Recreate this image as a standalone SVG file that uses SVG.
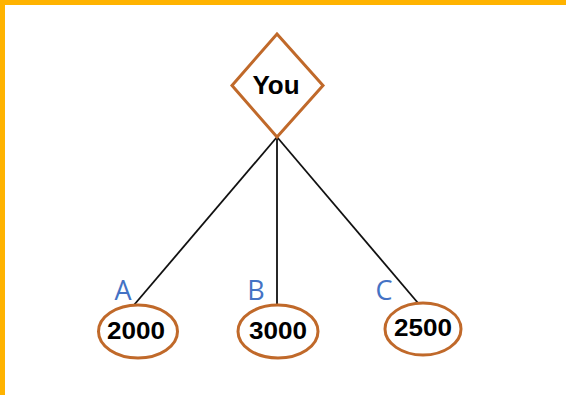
<svg xmlns="http://www.w3.org/2000/svg" width="566" height="395" viewBox="0 0 566 395">
<style>
.shape{fill:#fff;stroke:#C0692A;stroke-width:3}
.edge{stroke:#111;stroke-width:1.8;fill:none}
.num{font-family:"Liberation Sans",Arial,sans-serif;font-weight:bold;font-size:23px;fill:#000;text-anchor:middle}
.lbl{font-family:"Open Sans","Liberation Sans",sans-serif;font-size:27px;fill:#4472C4;text-anchor:middle}
</style>
<rect x="0" y="0" width="566" height="395" fill="#fff"/>
<rect x="0" y="0" width="566" height="5" fill="#FFB300"/>
<rect x="0" y="0" width="5" height="395" fill="#FFB300"/>
<g id="connectors">
<line class="edge" x1="277" y1="137" x2="134" y2="305"/>
<line class="edge" x1="277" y1="137" x2="277" y2="305"/>
<line class="edge" x1="277" y1="137" x2="418" y2="303"/>
</g>
<g id="you">
<polygon class="shape" points="277,34 323,85.5 277,137 232,85.5"/>
<text x="276" y="94" font-family="Liberation Sans,Arial,sans-serif" font-weight="bold" font-size="26" text-anchor="middle" fill="#000">You</text>
</g>
<g id="a">
<ellipse class="shape" cx="138" cy="331.5" rx="39.5" ry="26.5"/>
<text class="num" x="136" y="339" textLength="58" lengthAdjust="spacingAndGlyphs">2000</text>
<text class="lbl" x="123" y="300">A</text>
</g>
<g id="b">
<ellipse class="shape" cx="278" cy="331.5" rx="40" ry="26.5"/>
<text class="num" x="278" y="339" textLength="58" lengthAdjust="spacingAndGlyphs">3000</text>
<text class="lbl" x="256" y="300">B</text>
</g>
<g id="c">
<ellipse class="shape" cx="423" cy="329" rx="38" ry="26"/>
<text class="num" x="423" y="336" textLength="58" lengthAdjust="spacingAndGlyphs">2500</text>
<text class="lbl" x="384" y="300">C</text>
</g>
</svg>
